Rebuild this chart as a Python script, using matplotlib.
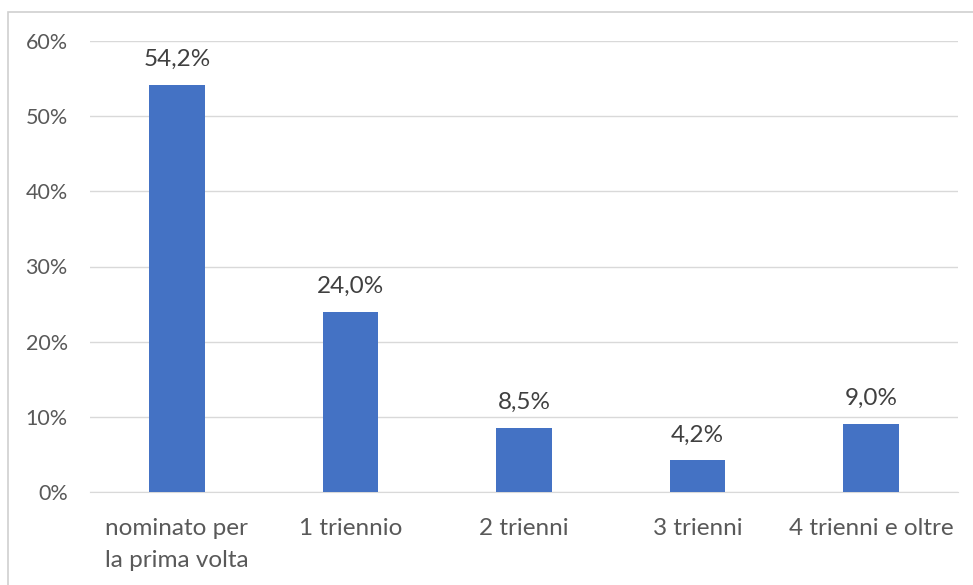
import matplotlib
matplotlib.use("Agg")
import matplotlib.pyplot as plt
from matplotlib.patches import Rectangle
from matplotlib.ticker import FuncFormatter

categories = ["nominato per\nla prima volta", "1 triennio", "2 trienni", "3 trienni", "4 trienni e oltre"]
values = [54.2, 24.0, 8.5, 4.2, 9.0]
labels = ["54,2%", "24,0%", "8,5%", "4,2%", "9,0%"]

plt.rcParams['font.family'] = ['Lato', 'DejaVu Sans']

fig = plt.figure(figsize=(9.73, 5.85), dpi=100)
fig.patches.append(Rectangle((8/973, -0.01), 1.0, 1 - 12/585 + 0.01, transform=fig.transFigure,
                             fill=False, edgecolor="#d0d0d0", linewidth=1.2))
ax = fig.add_axes([90/973, 1 - 492/585, 868/973, (492 - 41)/585])

x = range(len(categories))
ax.bar(x, values, width=0.32, color="#4472C4", zorder=3)
for xi, v, l in zip(x, values, labels):
    ax.text(xi, v + 2.0, l, ha="center", va="bottom", fontsize=17.5, color="#404040")

ax.set_ylim(0, 60)
ax.set_xlim(-0.5, len(categories) - 0.5)
ax.set_yticks([0, 10, 20, 30, 40, 50, 60])
ax.yaxis.set_major_formatter(FuncFormatter(lambda v, p: f"{int(v)}%"))
ax.grid(axis="y", color="#d9d9d9", linewidth=1, zorder=0)
for s in ["top", "right", "left"]:
    ax.spines[s].set_visible(False)
ax.spines["bottom"].set_color("#d9d9d9")
ax.tick_params(axis="y", length=0, pad=16, labelsize=15.5, labelcolor="#595959")
ax.tick_params(axis="x", length=0, pad=19, labelsize=17.5, labelcolor="#595959")
ax.set_xticks(list(x))
ax.set_xticklabels(categories, linespacing=1.6, va="top")

fig.savefig("out.png", dpi=100, facecolor="white")
